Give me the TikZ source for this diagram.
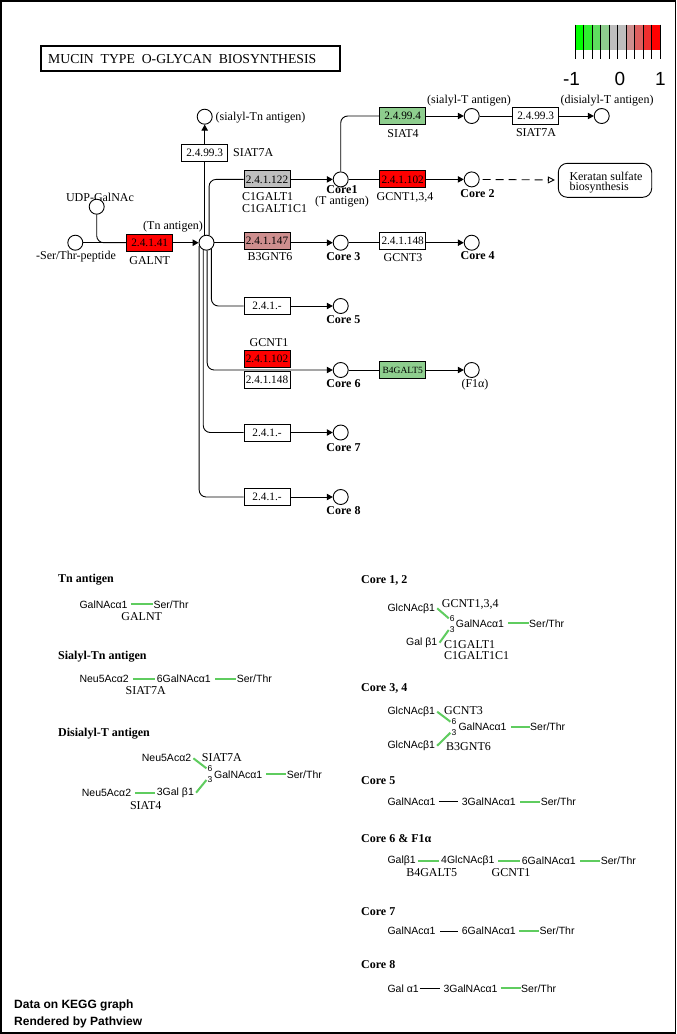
\documentclass[tikz,border=0pt]{standalone}
\usepackage{fontspec}
\setmainfont{Liberation Serif}
\newfontfamily\sansf{Liberation Sans}
\usetikzlibrary{arrows.meta}

\definecolor{upred}{HTML}{FF0000}
\definecolor{midgray}{HTML}{BEBEBE}
\definecolor{lightred}{HTML}{CE8E8E}
\definecolor{lightgreen}{HTML}{8ECE8E}
\definecolor{linkgreen}{HTML}{5FCC5F}
\definecolor{lgA}{HTML}{00FF00}
\definecolor{lgB}{HTML}{2FEF2F}
\definecolor{lgC}{HTML}{5FDE5F}
\definecolor{lgD}{HTML}{8ECE8E}
\definecolor{lgE}{HTML}{BEBEBE}
\definecolor{lgF}{HTML}{BEBEBE}
\definecolor{lgG}{HTML}{CE8E8E}
\definecolor{lgH}{HTML}{DE5F5F}
\definecolor{lgI}{HTML}{EF2F2F}
\definecolor{lgJ}{HTML}{FF0000}

\tikzset{
  cpd/.style={circle, draw, line width=0.9pt, minimum size=15pt, inner sep=0pt, fill=white},
  ec/.style={draw, line width=0.9pt, minimum width=46pt, minimum height=17pt, inner sep=0pt,
             font=\fontsize{11.3}{12}\selectfont},
  lbl/.style={inner sep=0pt, font=\fontsize{12}{13}\selectfont},
  clbl/.style={inner sep=0pt, font=\bfseries\fontsize{12}{13}\selectfont},
  rx/.style={line width=0.9pt},
  arr/.style={rx, -{Triangle[length=6pt,width=6.5pt]}},
  sug/.style={inner sep=0pt, anchor=west, font=\sansf\fontsize{10.5}{12}\selectfont},
  posn/.style={inner sep=0pt, font=\sansf\fontsize{8.5}{9}\selectfont},
  gname/.style={inner sep=0pt, font=\fontsize{12}{13}\selectfont},
  head/.style={inner sep=0pt, anchor=west, font=\bfseries\fontsize{12}{13}\selectfont},
  glink/.style={draw=linkgreen, line width=2pt},
  blink/.style={draw=black, line width=0.9pt},
}

\begin{document}
\begin{tikzpicture}[x=1pt, y=-1pt]
\useasboundingbox (0,0) rectangle (677,1034);
\fill[white] (0,0) rectangle (677,1034);
\draw[line width=1.5pt] (0.75,0.75) rectangle (675.5,1033);

% ---------- title ----------
\node[draw, line width=1.5pt, minimum width=299pt, minimum height=25pt, inner sep=0pt] (title) at (190.5,58.5) {};
\node[inner sep=0pt, anchor=west, font=\fontsize{13.7}{14}\selectfont] (titleT) at (48,59.5)
  {MUCIN\ \ TYPE\ \ O-GLYCAN\ \ BIOSYNTHESIS};

% ---------- colour key ----------
\foreach \c [count=\i from 0] in {lgA,lgB,lgC,lgD,lgE,lgF,lgG,lgH,lgI,lgJ}
  \fill[\c] (575+\i*8.5,24.7) rectangle ++(8.5,25.6);
\foreach \i in {0,...,10}
  \draw[line width=0.9pt] (575+\i*8.5,24.7) -- ++(0,34);
\node[inner sep=0pt, font=\sansf\fontsize{19}{20}\selectfont] (kmin) at (571.5,79) {-1};
\node[inner sep=0pt, font=\sansf\fontsize{19}{20}\selectfont] (kmid) at (620,79) {0};
\node[inner sep=0pt, font=\sansf\fontsize{19}{20}\selectfont] (kmax) at (660.5,79) {1};

% ---------- compounds ----------
\node[lbl] (udpL) at (100,197.5) {UDP-GalNAc};
\node[cpd] (serthr) at (75.3,242.7) {};
\node[cpd] (udp) at (96.7,206.7) {};
\node[cpd] (tn) at (206.5,242.7) {};
\node[cpd] (stn) at (204.7,116.7) {};
\node[cpd] (core1) at (340.7,179.4) {};
\node[cpd] (core2) at (471.7,179.4) {};
\node[cpd] (core3) at (340.7,242.7) {};
\node[cpd] (core4) at (471.7,242.7) {};
\node[cpd] (sialylT) at (471.7,116) {};
\node[cpd] (disialylT) at (601.7,116) {};
\node[cpd] (core5) at (340.7,306) {};
\node[cpd] (core6) at (340.7,370) {};
\node[cpd] (f1a) at (471.7,370) {};
\node[cpd] (core7) at (340.7,432.5) {};
\node[cpd] (core8) at (340.7,497) {};

% ---------- enzymes ----------
\node[ec, fill=upred] (galnt) at (149.7,242.7) {2.4.1.41};
\node[ec, fill=white] (siat7a1) at (204.7,153) {2.4.99.3};
\node[ec, fill=midgray] (c1galt) at (267,179.4) {2.4.1.122};
\node[ec, fill=lightred] (b3gnt6) at (267,240.5) {2.4.1.147};
\node[ec, fill=lightgreen] (siat4) at (402.7,116) {2.4.99.4};
\node[ec, fill=white] (siat7a2) at (535.7,116) {2.4.99.3};
\node[ec, fill=upred] (gcnt134) at (402.7,179.4) {2.4.1.102};
\node[ec, fill=white] (gcnt3) at (402.7,240.5) {2.4.1.148};
\node[ec, fill=white] (e5) at (267,306) {2.4.1.-};
\node[ec, fill=upred] (gcnt1) at (267,358.5) {2.4.1.102};
\node[ec, fill=white] (e6b) at (267,380) {2.4.1.148};
\node[ec, fill=lightgreen, font=\fontsize{9.5}{10}\selectfont] (b4galt5) at (402.7,370) {B4GALT5};
\node[ec, fill=white] (e7) at (267,432.5) {2.4.1.-};
\node[ec, fill=white] (e8) at (267,497) {2.4.1.-};
\node[draw, line width=0.9pt, rounded corners=9pt, minimum width=93.4pt, minimum height=34pt, inner sep=0pt] (kera) at (605,180.3) {};
\node[lbl, anchor=west] (keraA) at (569.3,176) {Keratan sulfate};
\node[lbl, anchor=west] (keraB) at (569.3,187.5) {biosynthesis};

% ---------- reactions ----------
\draw[rx] (serthr) -- (galnt);
\draw[rx, rounded corners=7pt] (udp.south) |- (galnt.west);
\draw[arr] (galnt) -- (tn);
\draw[rx] (tn.103) -- (tn.103 |- siat7a1.south);
\draw[arr] (siat7a1.north) -- (stn.south);
\draw[rx, rounded corners=7pt] (tn.71) |- (c1galt.west);
\draw[arr] (c1galt) -- (core1);
\draw[rx] (tn.east) -- (tn.east -| b3gnt6.west);
\draw[arr] (tn.east -| b3gnt6.east) -- (core3.west);
\draw[rx] (core3.east) -- (core3.east -| gcnt3.west);
\draw[arr] (core3.east -| gcnt3.east) -- (core4.west);
\draw[rx] (core1) -- (gcnt134);
\draw[arr] (gcnt134) -- (core2);
\draw[rx, dash pattern=on 8pt off 5pt, -{Triangle[open,length=7pt,width=7pt]}, shorten >=3pt, shorten <=3pt] (core2) -- (kera);
\draw[rx, rounded corners=7pt] (core1.north) |- (siat4.west);
\draw[arr] (siat4) -- (sialylT);
\draw[rx] (sialylT) -- (siat7a2);
\draw[arr] (siat7a2) -- (disialylT);
\draw[rx, rounded corners=7pt] (tn.308) |- (e5.west);
\draw[arr] (e5) -- (core5);
\draw[arr, rounded corners=7pt] (tn.275) |- (core6.west);
\draw[rx] (core6) -- (b4galt5);
\draw[arr] (b4galt5) -- (f1a);
\draw[rx, rounded corners=7pt] (tn.246) |- (e7.west);
\draw[arr] (e7) -- (core7);
\draw[rx, rounded corners=7pt] (tn.203) |- (e8.west);
\draw[arr] (e8) -- (core8);

% ---------- labels ----------
\node[lbl] (serthrL) at (76,257) {-Ser/Thr-peptide};
\node[lbl] (galntL) at (149.7,261) {GALNT};
\node[lbl] (tnL) at (173,227) {(Tn antigen)};
\node[lbl, anchor=west] (siat7a1L) at (233,153) {SIAT7A};
\node[lbl, anchor=west] (stnL) at (215.5,118) {(sialyl-Tn antigen)};
\node[lbl, anchor=west] (c1galtL1) at (242,197) {C1GALT1};
\node[lbl, anchor=west] (c1galtL2) at (242,208.5) {C1GALT1C1};
\node[clbl] (core1L) at (342,190) {Core1};
\node[lbl] (core1L2) at (342,201.7) {(T antigen)};
\node[lbl] (b3gnt6L) at (270,256.7) {B3GNT6};
\node[clbl] (core3L) at (343.3,256.7) {Core 3};
\node[lbl] (gcnt3L) at (403,257.3) {GCNT3};
\node[clbl] (core4L) at (477.7,255.7) {Core 4};
\node[lbl] (gcnt134L) at (405,197.3) {GCNT1,3,4};
\node[clbl] (core2L) at (477.5,194) {Core 2};
\node[lbl] (siat4L) at (403,133.3) {SIAT4};
\node[lbl] (siat7a2L) at (536,133) {SIAT7A};
\node[lbl] (sialylTL) at (469,101) {(sialyl-T antigen)};
\node[lbl] (disialylTL) at (607,100.7) {(disialyl-T antigen)};
\node[clbl] (core5L) at (343.3,320) {Core 5};
\node[lbl] (gcnt1L) at (269,342.3) {GCNT1};
\node[clbl] (core6L) at (343.5,384) {Core 6};
\node[lbl] (f1aL) at (475,385) {(F1α)};
\node[clbl] (core7L) at (343.5,447.7) {Core 7};
\node[clbl] (core8L) at (343.5,510.7) {Core 8};

% ---------- structures: left column ----------
\node[head] (hTn) at (58,580) {Tn antigen};
\node[sug] (tnA) at (79.3,604.3) {GalNAcα1};
\node[sug] (tnB) at (153.3,604.3) {Ser/Thr};
\draw[glink] ([xshift=3pt]tnA.east) -- ([xshift=-0.5pt]tnB.west);
\node[gname] (tnG) at (141.7,616.7) {GALNT};

\node[head] (hSTn) at (58,656.7) {Sialyl-Tn antigen};
\node[sug] (stA) at (79.3,679) {Neu5Acα2};
\node[sug] (stB) at (156.7,679) {6GalNAcα1};
\node[sug] (stC) at (236.7,679) {Ser/Thr};
\draw[glink] ([xshift=4pt]stA.east) -- ([xshift=-2pt]stB.west);
\draw[glink] ([xshift=4pt]stB.east) -- ([xshift=-0.5pt]stC.west);
\node[gname] (stG) at (145.7,691) {SIAT7A};

\node[head] (hDT) at (58,733.3) {Disialyl-T antigen};
\node[sug] (dtA) at (141.7,758.3) {Neu5Acα2};
\node[gname, anchor=west] (dtG1) at (201.7,757.7) {SIAT7A};
\node[posn] (dt6) at (210,768.3) {6};
\node[posn] (dt3) at (210,780) {3};
\node[sug] (dtB) at (214,774.3) {GalNAcα1};
\node[sug] (dtC) at (286.7,774.3) {Ser/Thr};
\node[sug] (dtD) at (81.7,792.7) {Neu5Acα2};
\node[sug] (dtE) at (156.7,792.7) {3Gal β1};
\node[gname] (dtG2) at (145.7,805.7) {SIAT4};
\draw[glink] ([xshift=2pt]dtA.east) -- ([xshift=-1pt]dt6.west);
\draw[glink] ([xshift=2pt]dtE.east) -- ([xshift=-1pt]dt3.west);
\draw[glink] ([xshift=4pt]dtB.east) -- ([xshift=-0.5pt]dtC.west);
\draw[glink] ([xshift=4pt]dtD.east) -- ([xshift=-2pt]dtE.west);

% ---------- structures: right column ----------
\node[head] (h12) at (361,580) {Core 1, 2};
\node[sug] (c12a) at (387.3,608.3) {GlcNAcβ1};
\node[gname, anchor=west] (c12g1) at (441.7,604.3) {GCNT1,3,4};
\node[posn] (c12six) at (452.3,618.3) {6};
\node[posn] (c12thr) at (452.3,630) {3};
\node[sug] (c12b) at (455.7,623.3) {GalNAcα1};
\node[sug] (c12c) at (529,623.3) {Ser/Thr};
\node[sug] (c12d) at (406,642.7) {Gal β1};
\node[gname, anchor=west] (c12g2) at (444,644.3) {C1GALT1};
\node[gname, anchor=west] (c12g3) at (444,656) {C1GALT1C1};
\draw[glink] ([xshift=2pt]c12a.east) -- ([xshift=-1pt]c12six.west);
\draw[glink] ([xshift=2pt]c12d.east) -- ([xshift=-1pt]c12thr.west);
\draw[glink] ([xshift=4pt]c12b.east) -- ([xshift=-0.5pt]c12c.west);

\node[head] (h34) at (361,688.3) {Core 3, 4};
\node[sug] (c34a) at (387.3,711.7) {GlcNAcβ1};
\node[gname, anchor=west] (c34g1) at (444,711) {GCNT3};
\node[posn] (c34six) at (454,721.7) {6};
\node[posn] (c34thr) at (454,732.7) {3};
\node[sug] (c34b) at (458.3,726.7) {GalNAcα1};
\node[sug] (c34c) at (530,726.7) {Ser/Thr};
\node[sug] (c34d) at (387.3,745.7) {GlcNAcβ1};
\node[gname, anchor=west] (c34g2) at (446,746.7) {B3GNT6};
\draw[glink] ([xshift=2pt]c34a.east) -- ([xshift=-1pt]c34six.west);
\draw[glink] ([xshift=2pt]c34d.east) -- ([xshift=-1pt]c34thr.west);
\draw[glink] ([xshift=4pt]c34b.east) -- ([xshift=-0.5pt]c34c.west);

\node[head] (h5) at (361,780.7) {Core 5};
\node[sug] (c5a) at (387.3,801.7) {GalNAcα1};
\node[sug] (c5b) at (461.7,801.7) {3GalNAcα1};
\node[sug] (c5c) at (540.7,801.7) {Ser/Thr};
\draw[blink] ([xshift=3pt]c5a.east) -- ([xshift=-3.5pt]c5b.west);
\draw[glink] ([xshift=4pt]c5b.east) -- ([xshift=-0.5pt]c5c.west);

\node[head] (h6) at (361,839) {Core 6 \& F1α};
\node[sug] (c6a) at (387.3,861) {Galβ1};
\node[sug] (c6b) at (441,861) {4GlcNAcβ1};
\node[sug] (c6c) at (521.7,861) {6GalNAcα1};
\node[sug] (c6d) at (600.7,861) {Ser/Thr};
\draw[glink] ([xshift=2pt]c6a.east) -- ([xshift=-2.5pt]c6b.west);
\draw[glink] ([xshift=3.5pt]c6b.east) -- ([xshift=-1.5pt]c6c.west);
\draw[glink] ([xshift=4pt]c6c.east) -- ([xshift=-0.5pt]c6d.west);
\node[gname] (c6g1) at (431.7,872.3) {B4GALT5};
\node[gname] (c6g2) at (511,872.3) {GCNT1};

\node[head] (h7) at (361,911.7) {Core 7};
\node[sug] (c7a) at (387.3,931) {GalNAcα1};
\node[sug] (c7b) at (461.7,931) {6GalNAcα1};
\node[sug] (c7c) at (539.3,931) {Ser/Thr};
\draw[blink] ([xshift=4.5pt]c7a.east) -- ([xshift=-3.5pt]c7b.west);
\draw[glink] ([xshift=3pt]c7b.east) -- ([xshift=-0.5pt]c7c.west);

\node[head] (h8) at (361,965) {Core 8};
\node[sug] (c8a) at (387.3,988.3) {Gal α1};
\node[sug] (c8b) at (443.3,988.3) {3GalNAcα1};
\node[sug] (c8c) at (521,988.3) {Ser/Thr};
\draw[blink] ([xshift=1pt]c8a.east) -- ([xshift=-3.5pt]c8b.west);
\draw[glink] ([xshift=3pt]c8b.east) -- ([xshift=-0.5pt]c8c.west);

% ---------- footer ----------
\node[inner sep=0pt, anchor=west, font=\sansf\bfseries\fontsize{12}{13}\selectfont] (foot1) at (14,1005.7) {Data on KEGG graph};
\node[inner sep=0pt, anchor=west, font=\sansf\bfseries\fontsize{12}{13}\selectfont] (foot2) at (14,1022.3) {Rendered by Pathview};
\end{tikzpicture}
\end{document}
